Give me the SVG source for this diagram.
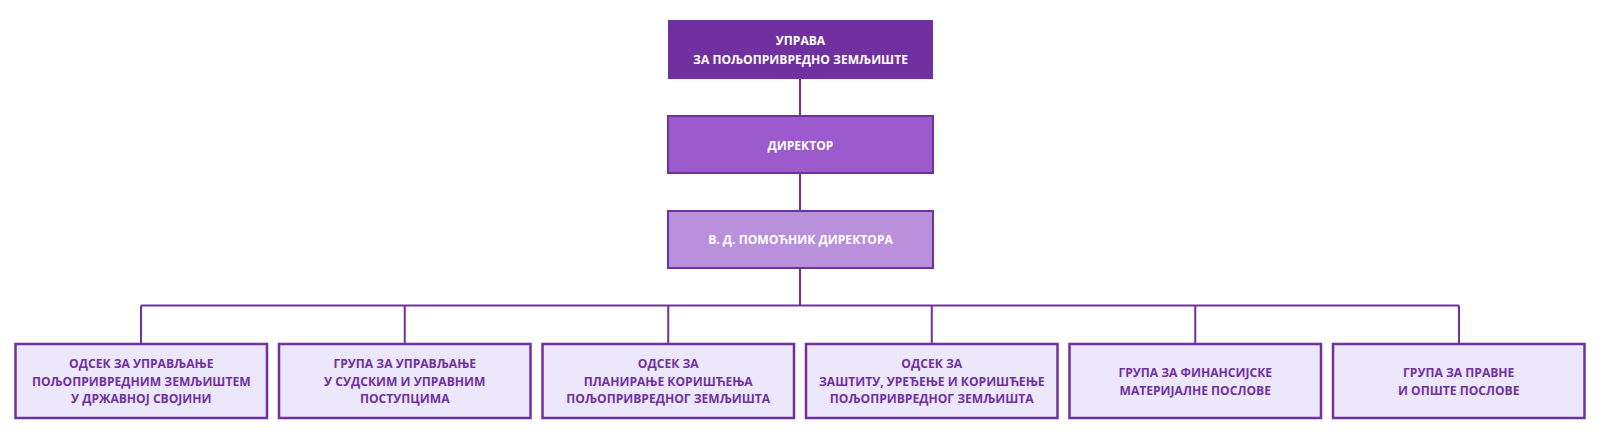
<svg xmlns="http://www.w3.org/2000/svg" width="1600" height="440" viewBox="0 0 1600 440">
  <style>
    text { font-family: "Open Sans", "Liberation Sans", sans-serif; font-weight: bold; font-size: 12.1px; text-anchor: middle; dominant-baseline: central; }
    .w { fill: #ffffff; }
    .p { fill: #7030A0; }
    .top { fill: #7030A0; }
    .dir { fill: #9B5BCC; stroke: #7030A0; stroke-width: 2; }
    .asst { fill: #B990DC; stroke: #7030A0; stroke-width: 2; }
    .unit { fill: #ECE7FA; stroke: #7030A0; stroke-width: 2.5; }
    .conn { fill: none; stroke: #7030A0; stroke-width: 2; }
  </style>
  <rect width="1600" height="440" fill="#ffffff"/>
  <g id="connectors">
    <path class="conn" d="M800 79 V116 M800 173 V211 M800 268 V305.5 M141 305.5 H1459 M141 305.5 V344 M404.75 305.5 V344 M668.25 305.5 V344 M931.75 305.5 V344 M1195.25 305.5 V344 M1459 305.5 V344"/>
  </g>
  <g id="uprava">
    <rect class="top" x="668" y="20" width="265" height="59"/>
    <text class="w" x="800.5" y="40.5">УПРАВА</text>
    <text class="w" x="800.5" y="59">ЗА ПОЉОПРИВРЕДНО ЗЕМЉИШТЕ</text>
  </g>
  <g id="direktor">
    <rect class="dir" x="668" y="116" width="265" height="57"/>
    <text class="w" x="800.5" y="145">ДИРЕКТОР</text>
  </g>
  <g id="pomocnik">
    <rect class="asst" x="668" y="211" width="265" height="57"/>
    <text class="w" x="800.5" y="239.5">В. Д. ПОМОЋНИК ДИРЕКТОРА</text>
  </g>
  <g id="odsek1">
    <rect class="unit" x="15.5" y="344" width="251.5" height="74"/>
    <text class="p" x="141.25" y="363.5">ОДСЕК ЗА УПРАВЉАЊЕ</text>
    <text class="p" x="141.25" y="381">ПОЉОПРИВРЕДНИМ ЗЕМЉИШТЕМ</text>
    <text class="p" x="141.25" y="398.5">У ДРЖАВНОЈ СВОЈИНИ</text>
  </g>
  <g id="grupa1">
    <rect class="unit" x="279" y="344" width="251.5" height="74"/>
    <text class="p" x="404.75" y="363.5">ГРУПА ЗА УПРАВЉАЊЕ</text>
    <text class="p" x="404.75" y="381">У СУДСКИМ И УПРАВНИМ</text>
    <text class="p" x="404.75" y="398.5">ПОСТУПЦИМА</text>
  </g>
  <g id="odsek2">
    <rect class="unit" x="542.5" y="344" width="251.5" height="74"/>
    <text class="p" x="668.25" y="363.5">ОДСЕК ЗА</text>
    <text class="p" x="668.25" y="381">ПЛАНИРАЊЕ КОРИШЋЕЊА</text>
    <text class="p" x="668.25" y="398.5">ПОЉОПРИВРЕДНОГ ЗЕМЉИШТА</text>
  </g>
  <g id="odsek3">
    <rect class="unit" x="806" y="344" width="251.5" height="74"/>
    <text class="p" x="931.75" y="363.5">ОДСЕК ЗА</text>
    <text class="p" x="931.75" y="381">ЗАШТИТУ, УРЕЂЕЊЕ И КОРИШЋЕЊЕ</text>
    <text class="p" x="931.75" y="398.5">ПОЉОПРИВРЕДНОГ ЗЕМЉИШТА</text>
  </g>
  <g id="grupa2">
    <rect class="unit" x="1069.5" y="344" width="251.5" height="74"/>
    <text class="p" x="1195.25" y="372">ГРУПА ЗА ФИНАНСИЈСКЕ</text>
    <text class="p" x="1195.25" y="390">МАТЕРИЈАЛНЕ ПОСЛОВЕ</text>
  </g>
  <g id="grupa3">
    <rect class="unit" x="1333" y="344" width="251.5" height="74"/>
    <text class="p" x="1458.75" y="372">ГРУПА ЗА ПРАВНЕ</text>
    <text class="p" x="1458.75" y="390">И ОПШТЕ ПОСЛОВЕ</text>
  </g>
</svg>
